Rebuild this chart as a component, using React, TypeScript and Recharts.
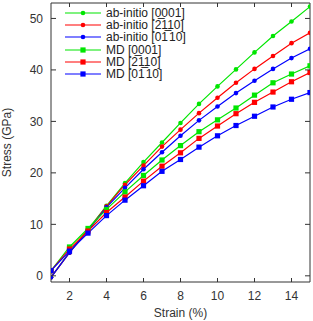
import React from "react";
import { LineChart, Line, XAxis, YAxis, Legend } from "recharts";

// strain (%) sampled at every integer
const strain = [1, 2, 3, 4, 5, 6, 7, 8, 9, 10, 11, 12, 13, 14, 15];

// stress (GPa)
const abInitio0001 = [-0.3, 4.6, 9.0, 13.6, 18.0, 22.1, 25.9, 29.7, 33.4, 36.8, 40.1, 43.4, 46.6, 49.4, 52.3];
const abInitio2110 = [-0.3, 4.5, 8.9, 13.5, 17.7, 21.4, 25.1, 28.4, 31.6, 34.6, 37.5, 40.2, 42.7, 45.2, 47.2];
const abInitio0110 = [-0.3, 4.5, 8.8, 13.3, 17.1, 20.7, 24.0, 27.2, 30.2, 32.9, 35.5, 37.9, 40.2, 42.3, 44.1];
const md0001 = [1.0, 5.6, 9.2, 12.9, 16.3, 19.5, 22.5, 25.3, 28.0, 30.3, 32.6, 35.1, 37.5, 39.2, 40.8];
const md2110 = [1.0, 5.2, 8.7, 12.3, 15.3, 18.4, 21.3, 23.9, 26.7, 29.1, 31.5, 33.7, 35.7, 37.7, 39.5];
const md0110 = [1.0, 4.8, 8.3, 11.7, 14.7, 17.5, 20.3, 22.6, 25.0, 27.2, 29.2, 31.0, 32.8, 34.3, 35.6];

const xTicks = [2, 4, 6, 8, 10, 12, 14];
const yTicks = [0, 10, 20, 30, 40, 50];

const GREEN = "#00e600";
const RED = "#ff0000";
const BLUE = "#0000ff";
const FRAME = "#333";
const TEXT = "#333";
const FONT = "'Liberation Sans', Arial, sans-serif";

type Marker = "circle" | "square";

const series: { key: string; name: string; color: string; marker: Marker; values: number[] }[] = [
  { key: "ai0001", name: "ab-initio [0001]", color: GREEN, marker: "circle", values: abInitio0001 },
  { key: "ai2110", name: "ab-initio [2\u0305110]", color: RED, marker: "circle", values: abInitio2110 },
  { key: "ai0110", name: "ab-initio [01\u0305\u200a10]", color: BLUE, marker: "circle", values: abInitio0110 },
  { key: "md0001", name: "MD [0001]", color: GREEN, marker: "square", values: md0001 },
  { key: "md2110", name: "MD [2\u0305110]", color: RED, marker: "square", values: md2110 },
  { key: "md0110", name: "MD [01\u0305\u200a10]", color: BLUE, marker: "square", values: md0110 },
];

const data = strain.map((s, i) => {
  const row: Record<string, number> = { strain: s };
  for (const sr of series) row[sr.key] = sr.values[i];
  return row;
});

function drawMarker(marker: Marker, color: string, cx: number, cy: number, key?: React.Key) {
  if (marker === "circle") return <circle key={key} cx={cx} cy={cy} r={2.3} fill={color} stroke="none" />;
  return <rect key={key} x={cx - 2.6} y={cy - 2.6} width={5.2} height={5.2} fill={color} stroke="none" />;
}

function BottomTick(props: any) {
  const { x, y, payload } = props;
  return (
    <g>
      <line x1={x} x2={x} y1={y} y2={y - 4} stroke={FRAME} />
      <text x={x} y={y + 18} textAnchor="middle" fontSize={12} fill={TEXT} fontFamily={FONT}>
        {payload.value}
      </text>
    </g>
  );
}

function TopTick(props: any) {
  const { x, y } = props;
  return <line x1={x} x2={x} y1={y} y2={y + 4} stroke={FRAME} />;
}

function LeftTick(props: any) {
  const { x, y, payload } = props;
  return (
    <g>
      <line x1={x} x2={x + 5} y1={y} y2={y} stroke={FRAME} />
      <text x={x - 8} y={y} dy="0.36em" textAnchor="end" fontSize={12} fill={TEXT} fontFamily={FONT}>
        {payload.value}
      </text>
    </g>
  );
}

function RightTick(props: any) {
  const { x, y } = props;
  return <line x1={x} x2={x - 5} y1={y} y2={y} stroke={FRAME} />;
}

function LegendBox() {
  return (
    <div style={{ fontFamily: FONT, fontSize: 12, color: "#222", lineHeight: "12.2px" }}>
      {series.map((s) => (
        <div key={s.key} style={{ display: "flex", alignItems: "center", height: 12.2 }}>
          <svg width={44} height={12} style={{ display: "block" }}>
            <line x1={3} x2={39} y1={6} y2={6} stroke={s.color} strokeWidth={1.2} />
            {drawMarker(s.marker, s.color, 21, 6)}
          </svg>
          <span style={{ whiteSpace: "nowrap" }}>{s.name}</span>
        </div>
      ))}
    </div>
  );
}

export default function App() {
  return (
    <div style={{ position: "absolute", left: 0, top: 0, width: 313, height: 321, background: "#fff" }}>
      <LineChart width={313} height={321} data={data} margin={{ top: 0, right: 0, bottom: 0, left: 0 }}>
        <XAxis
          dataKey="strain"
          type="number"
          domain={[1, 15]}
          ticks={xTicks}
          allowDataOverflow
          height={39}
          tickSize={0}
          tickMargin={0}
          tickLine={false}
          tick={BottomTick}
          axisLine={{ stroke: FRAME }}
          label={{
            value: "Strain (%)",
            position: "insideBottom",
            offset: 4,
            fontSize: 12,
            fill: TEXT,
            fontFamily: FONT,
          }}
        />
        <XAxis
          xAxisId="top"
          orientation="top"
          dataKey="strain"
          type="number"
          domain={[1, 15]}
          ticks={xTicks}
          allowDataOverflow
          height={3}
          tickSize={0}
          tickMargin={0}
          tickLine={false}
          tick={TopTick}
          axisLine={{ stroke: FRAME }}
        />
        <YAxis
          type="number"
          domain={[-1.2, 53]}
          ticks={yTicks}
          allowDataOverflow
          width={51}
          tickSize={0}
          tickMargin={0}
          tickLine={false}
          tick={LeftTick}
          axisLine={{ stroke: FRAME }}
          label={{
            content: (p: any) => {
              const vb = p.viewBox || { x: 0, y: 3, height: 279 };
              const cx = vb.x + 7;
              const cy = vb.y + vb.height / 2;
              return (
                <text
                  x={cx}
                  y={cy}
                  transform={`rotate(-90, ${cx}, ${cy})`}
                  textAnchor="middle"
                  dy="0.36em"
                  fontSize={12}
                  fill={TEXT}
                  fontFamily={FONT}
                >
                  Stress (GPa)
                </text>
              );
            },
          }}
        />
        <YAxis
          yAxisId="right"
          orientation="right"
          type="number"
          domain={[-1.2, 53]}
          ticks={yTicks}
          allowDataOverflow
          width={3}
          tickSize={0}
          tickMargin={0}
          tickLine={false}
          tick={RightTick}
          axisLine={{ stroke: FRAME }}
        />
        {series.map((s) => (
          <Line
            key={s.key}
            dataKey={s.key}
            name={s.name}
            type="linear"
            stroke={s.color}
            strokeWidth={1.2}
            isAnimationActive={false}
            dot={(p: any) => drawMarker(s.marker, s.color, p.cx, p.cy, `${s.key}-${p.index}`)}
            activeDot={false}
          />
        ))}
        <Legend
          layout="horizontal"
          verticalAlign="middle"
          align="center"
          content={() => <LegendBox />}
          wrapperStyle={{ top: 7, left: 62, width: 160, height: 74 }}
        />
      </LineChart>
    </div>
  );
}
